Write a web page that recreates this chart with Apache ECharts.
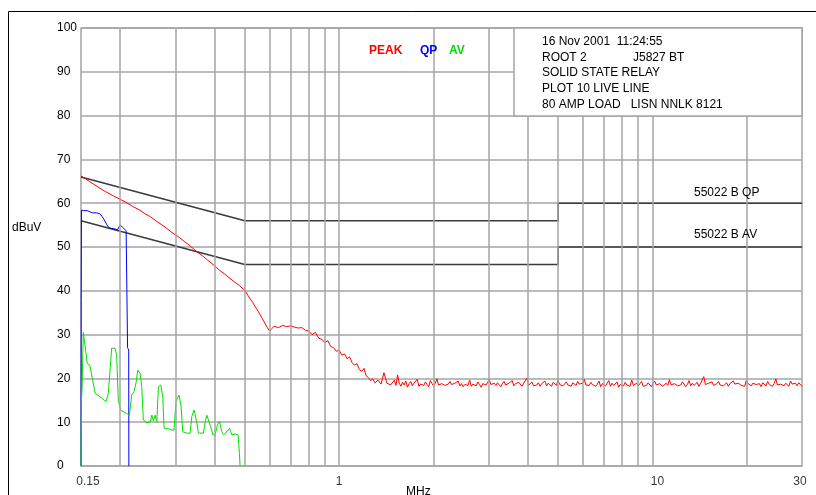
<!DOCTYPE html>
<html><head><meta charset="utf-8">
<script src="https://cdn.jsdelivr.net/npm/echarts@6/dist/echarts.min.js"></script>
<style>html,body{margin:0;padding:0;background:#fff}#c{width:816px;height:495px}</style>
</head><body><div id="c"></div>
<script>
// ---- data ----
const xTickValues = [0.15, 1, 10, 30];
const xTickLabels = ['0.15', '1', '10', '30'];
const xGridValues = [0.2, 0.3, 0.4, 0.5, 0.6, 0.7, 0.8, 0.9, 1, 2, 3, 4, 5, 6, 7, 8, 9, 10, 20];
const yTicks = [0, 10, 20, 30, 40, 50, 60, 70, 80, 90, 100];

const qpLimit = [[0.15, 66], [0.5, 56], [5, 56], [5, 60], [30, 60]];
const avLimit = [[0.15, 56], [0.5, 46], [5, 46], [5, 50], [30, 50]];
const limitLabels = ['55022 B QP', '55022 B AV'];
const legendNames = ['PEAK', 'QP', 'AV'];
const infoLines = ['16 Nov 2001  11:24:55', 'ROOT 2', 'SOLID STATE RELAY', 'PLOT 10 LIVE LINE', '80 AMP LOAD   LISN NNLK 8121'];
const infoExtra = 'J5827 BT';

const peakLow = [
  [0.15, 66.2], [0.155, 65.6], [0.16, 64.9], [0.165, 64.3], [0.17, 63.7], [0.18, 62.6], [0.19, 61.7], [0.2, 60.9],
  [0.21, 60.1], [0.22, 59.2], [0.23, 58.5], [0.24, 57.6], [0.25, 56.9], [0.26, 56.0], [0.27, 55.2], [0.28, 54.4],
  [0.29, 53.5], [0.3, 52.8], [0.31, 52.1], [0.32, 51.3], [0.335, 50.2], [0.35, 49.0], [0.365, 48.1], [0.38, 47.0],
  [0.39, 46.4], [0.4, 45.7], [0.415, 44.7], [0.43, 43.9], [0.445, 43.0], [0.46, 42.2], [0.48, 41.2], [0.5, 40.1],
  [0.515, 38.6], [0.53, 37.3], [0.545, 35.9], [0.56, 34.5], [0.575, 33.0], [0.59, 31.6], [0.6, 30.8], [0.61, 31.4],
  [0.62, 31.9], [0.64, 31.6], [0.66, 32.1], [0.68, 31.8], [0.7, 32.0], [0.72, 31.7], [0.74, 31.5], [0.76, 31.6],
  [0.78, 31.0], [0.8, 30.8], [0.82, 30.0], [0.84, 30.5], [0.86, 29.2], [0.88, 28.9], [0.9, 28.2], [0.92, 28.6],
  [0.94, 27.3], [0.96, 27.0], [0.98, 26.2], [1.0, 26.4], [1.02, 25.3], [1.04, 25.6], [1.06, 24.5], [1.08, 24.9],
  [1.1, 23.6], [1.12, 23.0], [1.14, 23.4], [1.16, 22.0], [1.18, 21.6], [1.2, 22.3], [1.22, 20.6], [1.24, 20.2],
  [1.26, 19.5], [1.28, 19.9], [1.3, 19.0], [1.33, 19.6], [1.36, 18.7], [1.39, 21.3], [1.42, 18.9], [1.46, 18.5]
];
// analyser sweep from 1.5 MHz to 30 MHz
const peakNoiseStart = 1.5;
const peakNoiseStop = 30;
const peakNoiseValues = [
  19.6, 18.4, 20.8, 18.9, 18.2, 19.1, 18.5, 19.4, 18.0, 18.8, 19.3, 18.3, 18.9, 18.6, 19.8, 18.2, 18.7, 19.0, 18.4, 19.2, 18.6, 18.1, 19.5, 18.8, 18.3,
  18.9, 19.9, 18.5, 18.2, 18.8, 19.1, 18.4, 18.0, 18.7, 19.3, 18.6, 18.2, 18.9, 18.5, 19.4, 18.3, 18.8, 18.1, 18.6, 19.0, 18.4, 19.6, 18.2, 18.7, 18.9,
  18.3, 19.2, 18.6, 18.0, 18.8, 19.1, 18.5, 18.3, 19.7, 18.6, 18.2, 18.9, 18.4, 19.0, 18.7, 18.1, 18.8, 19.3, 18.5, 18.2, 18.9, 18.6, 19.5, 18.3, 18.8,
  18.4, 19.1, 18.7, 18.2, 18.9, 18.5, 20.1, 18.4, 18.8, 19.2, 18.3, 18.7, 18.5, 19.0, 18.2, 18.8, 18.6, 19.4, 18.3, 18.9, 18.5, 18.2, 19.1, 18.7, 18.4,
  19.6, 18.6, 18.9, 18.3, 18.7, 19.2, 18.5, 18.8, 18.2, 19.0, 18.6, 18.4, 19.3, 18.7, 18.3, 18.9, 19.8, 18.5, 18.8, 18.4, 19.1, 18.6, 18.9, 18.2, 18.7,
  19.4, 18.1, 18.8, 19.0, 18.3, 18.6, 19.5, 18.2, 18.9, 18.4, 18.7, 19.2, 18.0, 18.6, 18.9, 18.3, 19.1, 18.5, 18.8, 18.2, 19.6, 18.4, 18.7, 18.9, 18.3,
  18.8, 19.3, 18.2, 18.6, 18.4, 19.0, 18.7, 18.1, 18.9, 19.4, 18.5, 18.3, 18.8, 19.1, 18.2, 18.6, 18.9, 18.4, 19.7, 18.5, 18.2, 18.8, 19.0, 18.3, 18.7,
  18.5, 19.2, 18.8, 18.1, 18.6, 19.5, 18.3, 18.9, 18.4, 18.7, 19.1, 18.2, 18.8, 18.5, 20.4, 18.6, 18.3, 18.9, 18.7, 19.2, 18.4, 18.1, 18.8, 19.3, 18.5,
  18.9, 18.3, 18.6, 19.0, 18.2, 18.8, 18.5, 19.4, 18.7, 18.3, 18.9, 19.1, 18.4, 18.6, 18.2, 19.6, 18.8, 18.5, 18.3, 18.9, 19.2, 18.6, 18.4, 18.8, 18.1,
  19.0, 18.7, 18.3, 19.3, 18.6, 18.9, 18.2, 18.8, 19.9, 18.5, 18.4, 18.7, 19.1, 18.3, 18.9, 18.6, 18.2, 19.4, 18.7, 18.5, 18.9, 18.3, 19.0, 18.6, 18.2
];

const qpTrace = [
  [0.15, 0], [0.1502, 38], [0.1505, 58.4], [0.153, 58.3], [0.157, 58.3], [0.159, 57.9], [0.163, 57.8], [0.168, 57.8],
  [0.172, 57.6], [0.175, 57.0], [0.178, 56.2], [0.181, 55.2], [0.184, 54.4], [0.188, 54.2], [0.193, 54.1], [0.196, 53.9],
  [0.198, 54.3], [0.2, 55.0], [0.203, 54.6], [0.206, 54.2], [0.209, 53.7], [0.211, 53.4], [0.2112, 27], [0.213, 26.5], [0.2132, 0]
];

const avTrace = [
  [0.15, 0], [0.1505, 15], [0.1512, 18], [0.1526, 30.5], [0.1545, 30.7], [0.1571, 23.4], [0.1601, 23.0], [0.1634, 19.6],
  [0.1664, 16.6], [0.1725, 15.8], [0.1803, 14.7], [0.1834, 16.6], [0.1879, 26.9], [0.1925, 26.9], [0.1949, 25.4],
  [0.1973, 15.0], [0.2007, 12.8], [0.2097, 12.0], [0.214, 11.6], [0.2178, 16.2], [0.2215, 17.0], [0.2248, 19.0],
  [0.2276, 21.9], [0.2315, 21.2], [0.2344, 18.1], [0.2372, 10.5], [0.2433, 9.9], [0.2493, 10.0], [0.2524, 11.6],
  [0.2554, 10.3], [0.2586, 11.6], [0.2618, 10.0], [0.2649, 18.1], [0.2696, 18.5], [0.2736, 15.8], [0.2762, 8.6],
  [0.285, 8.6], [0.2922, 8.2], [0.2971, 8.2], [0.3015, 14.7], [0.3054, 15.0], [0.3083, 16.2], [0.3129, 13.7],
  [0.3168, 7.8], [0.3264, 7.5], [0.3344, 7.5], [0.3386, 11.3], [0.3444, 12.8], [0.3487, 13.2], [0.3513, 9.9],
  [0.3555, 7.5], [0.3688, 7.5], [0.3735, 10.0], [0.3781, 11.6], [0.3827, 11.6], [0.3895, 8.9], [0.3953, 7.1],
  [0.402, 7.1], [0.4089, 9.4], [0.415, 10.2], [0.4223, 7.8], [0.4274, 7.1], [0.4381, 7.8], [0.4466, 8.6],
  [0.4545, 7.1], [0.4655, 7.3], [0.4758, 7.1], [0.4804, 2.9], [0.4829, 0]
];

// ---- build ----
const FONT = '"Liberation Sans", Arial, sans-serif';
const GRID = '#a4a4a4';
const noisePts = peakNoiseValues.map((v, i) => {
  const f = peakNoiseStart * Math.pow(peakNoiseStop / peakNoiseStart, i / (peakNoiseValues.length - 1));
  return [f, v];
});
const peakTrace = peakLow.concat(noisePts);

const tickLabelOffsets = [[7, 0], [0, 0], [5, 0], [-2, 0]];

const chart = echarts.init(document.getElementById('c'), null, {renderer: 'canvas'});
const txt = (x, y, text, extra) => Object.assign({
  type: 'text', x: x, y: y, z: 100,
  style: Object.assign({text: text, font: '12px ' + FONT, fill: '#000', align: 'left', verticalAlign: 'middle'}, extra || {})
});

chart.setOption({
  animation: false,
  backgroundColor: '#fff',
  grid: {left: 81, top: 28, width: 721, height: 438, show: true, borderColor: GRID, borderWidth: 1.5, backgroundColor: 'transparent'},
  xAxis: {
    type: 'log', logBase: 10, min: 0.15, max: 30,
    axisLine: {show: false}, axisTick: {show: false}, axisLabel: {show: false},
    splitLine: {show: false}, minorTick: {show: false}, minorSplitLine: {show: false}
  },
  yAxis: {
    type: 'value', min: yTicks[0], max: yTicks[yTicks.length - 1], interval: 10,
    axisLine: {show: false}, axisTick: {show: false},
    splitLine: {show: true, lineStyle: {color: GRID, width: 1.5}},
    axisLabel: {margin: 24, align: 'left', color: '#000', fontSize: 12, fontFamily: FONT}
  },
  series: [
    {
      name: 'gridX', type: 'line', data: [], silent: true, z: 1,
      markLine: {
        silent: true, symbol: ['none', 'none'], label: {show: false}, animation: false,
        lineStyle: {color: GRID, width: 1.5, type: 'solid'},
        emphasis: {disabled: true},
        data: xGridValues.map(v => ({xAxis: v}))
      }
    },
    {name: 'QP limit', type: 'line', data: qpLimit, symbol: 'none', silent: true, z: 2,
      lineStyle: {color: '#3a3a3a', width: 1.5}},
    {name: 'AV limit', type: 'line', data: avLimit, symbol: 'none', silent: true, z: 2,
      lineStyle: {color: '#3a3a3a', width: 1.5}},
    {name: 'PEAK', type: 'line', data: peakTrace, symbol: 'none', silent: true, z: 3,
      lineStyle: {color: '#ff0000', width: 1}},
    {name: 'QP', type: 'line', data: qpTrace, symbol: 'none', silent: true, z: 4,
      lineStyle: {color: '#0000ff', width: 1}},
    {name: 'AV', type: 'line', data: avTrace, symbol: 'none', silent: true, z: 4,
      lineStyle: {color: '#00e000', width: 1}},
    {
      name: 'xLabels', type: 'scatter', silent: true, clip: false, symbolSize: 1, z: 5,
      itemStyle: {color: 'transparent'},
      data: xTickValues.map((v, i) => ({
        value: [v, 0],
        label: {offset: tickLabelOffsets[i]}
      })),
      label: {
        show: true, position: 'bottom', distance: 9, color: '#000', fontSize: 12, fontFamily: FONT,
        formatter: p => xTickLabels[p.dataIndex]
      }
    }
  ],
  graphic: [
    {type: 'polyline', z: 100, shape: {points: [[8.5, 495], [8.5, 11.5], [816, 11.5]]},
      style: {stroke: '#000', lineWidth: 1, fill: null}},
    {type: 'rect', z: 99, shape: {x: 514, y: 28, width: 288, height: 88},
      style: {fill: '#fff', stroke: GRID, lineWidth: 1.5}},
    txt(542, 42, infoLines[0]),
    txt(542, 57.5, infoLines[1]),
    txt(633, 57.5, infoExtra),
    txt(542, 73, infoLines[2]),
    txt(542, 89, infoLines[3]),
    txt(542, 105, infoLines[4]),
    txt(369, 51, legendNames[0], {fill: '#ff0000', font: 'bold 12px ' + FONT}),
    txt(420, 51, legendNames[1], {fill: '#0000ff', font: 'bold 12px ' + FONT}),
    txt(449, 51, legendNames[2], {fill: '#00dd00', font: 'bold 12px ' + FONT}),
    txt(694, 193, limitLabels[0]),
    txt(694, 235, limitLabels[1]),
    txt(12, 228, 'dBuV'),
    txt(406, 492, 'MHz')
  ]
});
</script></body></html>
